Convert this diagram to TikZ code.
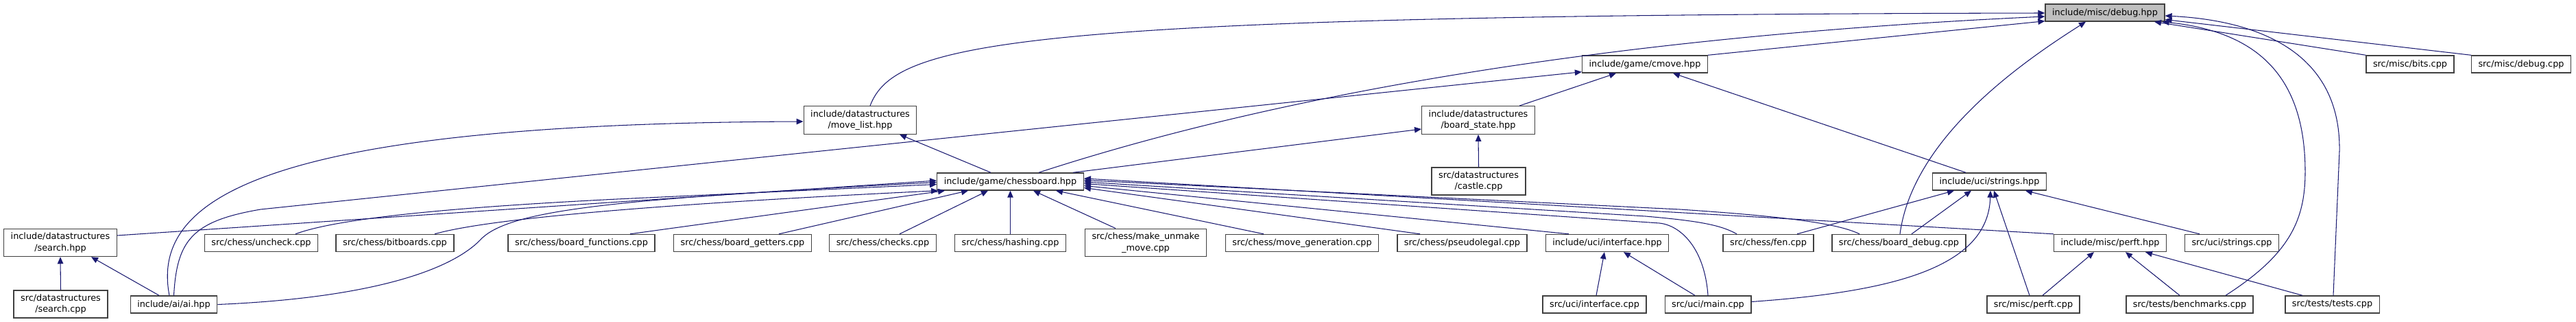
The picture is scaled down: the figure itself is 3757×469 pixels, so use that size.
\documentclass[tikz,border=0pt]{standalone}
\usepackage{fontspec}
\setmainfont{DejaVu Sans}
\usetikzlibrary{arrows.meta, calc}
\definecolor{doxyedge}{HTML}{191970}
\definecolor{doxyfill}{HTML}{BFBFBF}

\begin{document}
\begin{tikzpicture}[x=0.02cm, y=-0.02cm,
    file/.style={draw=black!75, line width=0.8pt, fill=white, inner xsep=0.2cm, inner ysep=0.11cm,
      minimum height=0.5cm, align=center, font=\fontsize{7.3}{9.5}\selectfont},
    curfile/.style={file, fill=doxyfill},
    dep/.style={draw=doxyedge, line width=0.6pt, -{Triangle[length=0.2cm, width=0.17cm]}}]
  \useasboundingbox (0,0) rectangle (3757,469);
  % Headers, top part
  \node[curfile] (debughpp) at (3070,18.5) {include/misc/debug.hpp};
  \node[file] (cmovehpp) at (2399,93.5) {include/game/cmove.hpp};
  \node[file] (bitscpp) at (3515,93.5) {src/misc/bits.cpp};
  \node[file] (debugcpp) at (3677,93.5) {src/misc/debug.cpp};
  \node[file] (movelisthpp) at (1254.5,175) {include/datastructures\\/move\_list.hpp};
  \node[file] (boardstatehpp) at (2156,175) {include/datastructures\\/board\_state.hpp};
  \node[file] (chessboardhpp) at (1473.5,264.5) {include/game/chessboard.hpp};
  \node[file] (castlecpp) at (2156.5,264) {src/datastructures\\/castle.cpp};
  \node[file] (stringshpp) at (2901.5,264.5) {include/uci/strings.hpp};
  % Middle row
  \node[file] (searchhpp) at (88,353.5) {include/datastructures\\/search.hpp};
  \node[file] (uncheckcpp) at (381,354) {src/chess/uncheck.cpp};
  \node[file] (bitboardscpp) at (576,354) {src/chess/bitboards.cpp};
  \node[file] (boardfunctionscpp) at (848,354) {src/chess/board\_functions.cpp};
  \node[file] (boardgetterscpp) at (1083,354) {src/chess/board\_getters.cpp};
  \node[file] (checkscpp) at (1287.5,354) {src/chess/checks.cpp};
  \node[file] (hashingcpp) at (1473.5,354) {src/chess/hashing.cpp};
  \node[file] (makeunmakecpp) at (1671,353.5) {src/chess/make\_unmake\\\_move.cpp};
  \node[file] (movegenerationcpp) at (1899,354) {src/chess/move\_generation.cpp};
  \node[file] (pseudolegalcpp) at (2132.5,354) {src/chess/pseudolegal.cpp};
  \node[file] (interfacehpp) at (2344,354) {include/uci/interface.hpp};
  \node[file] (fencpp) at (2579,354) {src/chess/fen.cpp};
  \node[file] (boarddebugcpp) at (2769.5,354) {src/chess/board\_debug.cpp};
  \node[file] (perfthpp) at (3077.5,354) {include/misc/perft.hpp};
  \node[file] (stringscpp) at (3255,354) {src/uci/strings.cpp};
  % Bottom row
  \node[file] (searchcpp) at (88.5,443) {src/datastructures\\/search.cpp};
  \node[file] (aihpp) at (253.5,443.5) {include/ai/ai.hpp};
  \node[file] (interfacecpp) at (2325.5,443.5) {src/uci/interface.cpp};
  \node[file] (maincpp) at (2491,443.5) {src/uci/main.cpp};
  \node[file] (perftcpp) at (2965.5,443.5) {src/misc/perft.cpp};
  \node[file] (benchmarkscpp) at (3193.5,443.5) {src/tests/benchmarks.cpp};
  \node[file] (testscpp) at (3401.5,443.5) {src/tests/tests.cpp};

  % Into debug.hpp
  \draw[dep] ($(movelisthpp.north)+(14.5,0)$) .. controls (1305,60) and (1480,22) .. ($(debughpp.west)+(0,0.5)$);
  \draw[dep] ($(chessboardhpp.north)+(41.5,0)$) .. controls (1750,175) and (2200,60) .. ($(debughpp.west)+(0,5.5)$);
  \draw[dep] (cmovehpp.north east) -- ($(debughpp.south west)+(0,-1)$);
  \draw[dep] ($(boarddebugcpp.north)+(1.5,0)$) .. controls (2790,200) and (2950,90) .. ($(debughpp.south)+(-28,0)$);
  \draw[dep] (bitscpp.north west) -- ($(debughpp.south)+(72,0)$);
  \draw[dep] (debugcpp.north west) -- ($(debughpp.east)+(0,10)$);
  \draw[dep] ($(benchmarkscpp.north)+(52.5,0)$) .. controls (3340,370) and (3362,320) .. (3362,250)
    .. controls (3362,100) and (3280,45) .. ($(debughpp.south east)+(-4,0)$);
  \draw[dep] ($(testscpp.north)+(1.5,0)$) -- (3412,220) .. controls (3414,80) and (3300,30) .. ($(debughpp.east)+(0,4.5)$);
  % Into cmove.hpp
  \draw[dep] (aihpp.north) .. controls (258,350) and (280,322) .. (380,305) -- ($(cmovehpp.south west)+(0,-2)$);
  \draw[dep] ($(boardstatehpp.north)+(60,0)$) -- ($(cmovehpp.south)+(-42,0)$);
  \draw[dep] ($(stringshpp.north)+(-34.5,0)$) -- ($(cmovehpp.south)+(41,0)$);
  % Into move_list.hpp and board_state.hpp
  \draw[dep] ($(aihpp.north)+(-6.5,0)$) .. controls (220,290) and (380,180) .. ($(movelisthpp.west)+(0,2)$);
  \draw[dep] ($(chessboardhpp.north)+(-28.5,0)$) -- ($(movelisthpp.south)+(57.5,0)$);
  \draw[dep] ($(chessboardhpp.north)+(91.5,0)$) -- ($(boardstatehpp.west)+(0,13)$);
  \draw[dep] (castlecpp.north) -- (boardstatehpp.south);
  % Into chessboard.hpp, left and below
  \draw[dep] ($(searchhpp.east)+(0,-10.5)$) -- ($(chessboardhpp.west)+(0,-1.5)$);
  \draw[dep] (aihpp.east) .. controls (520,435) and (650,400) .. (700,350)
    .. controls (740,305) and (900,290) .. ($(chessboardhpp.west)+(0,1)$);
  \draw[dep] ($(uncheckcpp.north)+(50,0)$) .. controls (500,315) and (700,300) .. (900,290) -- ($(chessboardhpp.west)+(0,4)$);
  \draw[dep] ($(bitboardscpp.north)+(58,0)$) .. controls (700,322) and (900,300) .. ($(chessboardhpp.south west)+(2,0)$);
  \draw[dep] ($(boardfunctionscpp.north)+(71,0)$) -- ($(chessboardhpp.south west)+(12,0)$);
  \draw[dep] ($(boardgetterscpp.north)+(53,0)$) -- ($(chessboardhpp.south west)+(46,0)$);
  \draw[dep] ($(checkscpp.north)+(24.5,0)$) -- ($(chessboardhpp.south)+(-32.5,0)$);
  \draw[dep] (hashingcpp.north) -- (chessboardhpp.south);
  \draw[dep] ($(makeunmakecpp.north)+(-44,0)$) -- ($(chessboardhpp.south)+(33.5,0)$);
  \draw[dep] ($(movegenerationcpp.north)+(-56,0)$) -- ($(chessboardhpp.south)+(66.5,0)$);
  % Into chessboard.hpp, right
  \draw[dep] ($(pseudolegalcpp.north)+(-61.5,0)$) -- ($(chessboardhpp.east)+(0,9)$);
  \draw[dep] ($(interfacehpp.north)+(-56,0)$) -- ($(chessboardhpp.east)+(0,6)$);
  \draw[dep] (maincpp.north) .. controls (2486,360) and (2450,328) .. (2420,325) -- ($(chessboardhpp.east)+(0,3)$);
  \draw[dep] ($(fencpp.north)+(-46,0)$) .. controls (2510,328) and (2480,322) .. (2400,315) -- ($(chessboardhpp.east)+(0,0.5)$);
  \draw[dep] ($(boarddebugcpp.north)+(-57.5,0)$) .. controls (2680,325) and (2600,315) .. (2450,305) -- ($(chessboardhpp.east)+(0,-2)$);
  \draw[dep] (perfthpp.north west) -- ($(chessboardhpp.east)+(0,-4.5)$);
  % Into strings.hpp
  \draw[dep] ($(fencpp.north)+(42,0)$) -- ($(stringshpp.south)+(-51.5,0)$);
  \draw[dep] ($(boarddebugcpp.north)+(18.5,0)$) -- ($(stringshpp.south)+(-26.5,0)$);
  \draw[dep] ($(maincpp.east)+(0,-4)$) .. controls (2760,425) and (2900,390) .. ($(stringshpp.south)+(1.5,0)$);
  \draw[dep] ($(perftcpp.north)+(-5.5,0)$) -- ($(stringshpp.south)+(6.5,0)$);
  \draw[dep] ($(stringscpp.north)+(-47,0)$) -- ($(stringshpp.south)+(52.5,0)$);
  % Into search.hpp, interface.hpp, perft.hpp
  \draw[dep] (searchcpp.north) -- (searchhpp.south);
  \draw[dep] ($(aihpp.north)+(-21.5,0)$) -- ($(searchhpp.south)+(45,0)$);
  \draw[dep] ($(interfacecpp.north)+(2.5,0)$) -- ($(interfacehpp.south)+(-4,0)$);
  \draw[dep] ($(maincpp.north)+(-19,0)$) -- ($(interfacehpp.south)+(24,0)$);
  \draw[dep] ($(perftcpp.north)+(13.5,0)$) -- ($(perfthpp.south)+(-23.5,0)$);
  \draw[dep] ($(benchmarkscpp.north)+(-14.5,0)$) -- ($(perfthpp.south)+(22.5,0)$);
  \draw[dep] ($(testscpp.north)+(-43.5,0)$) -- ($(perfthpp.south)+(51.5,0)$);
\end{tikzpicture}
\end{document}
